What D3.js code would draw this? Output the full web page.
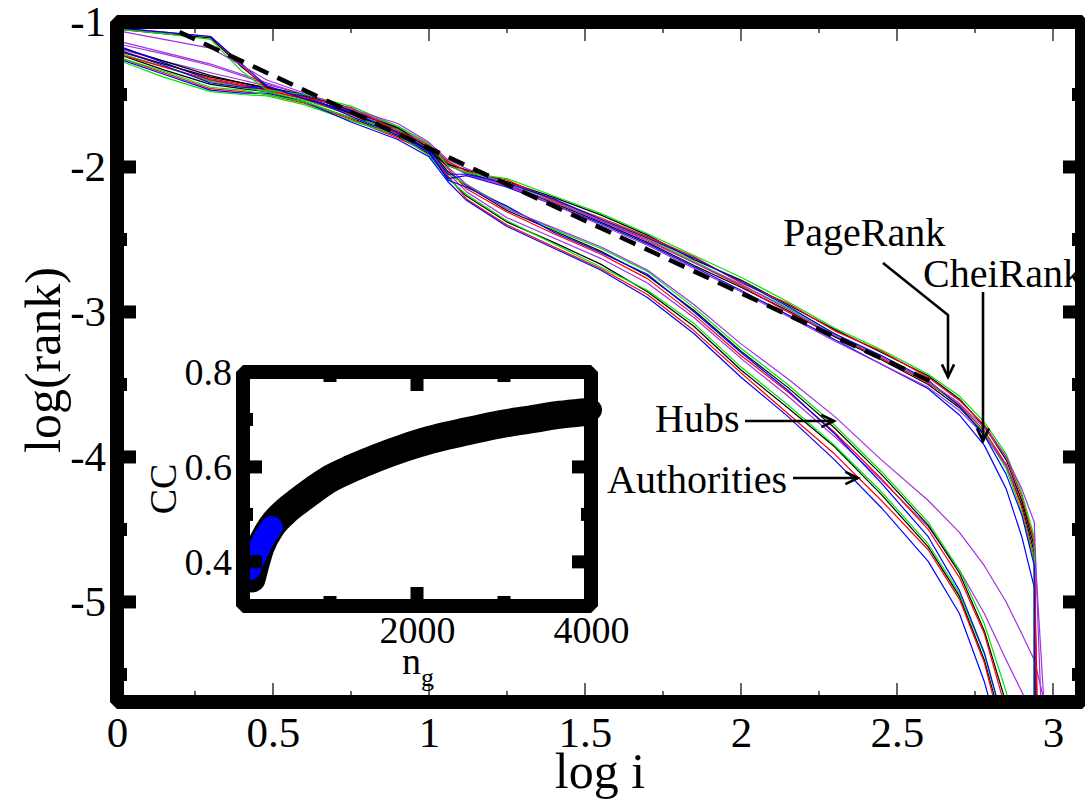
<!DOCTYPE html>
<html>
<head>
<meta charset="utf-8">
<script src="https://cdn.jsdelivr.net/npm/d3@7"></script>
<style>
    body { margin: 0; background: #fff; }
    svg { display: block; font-family: "Liberation Serif", "Times New Roman", serif; }
    svg text { font-family: "Liberation Serif", "Times New Roman", serif; }
</style>
</head>
<body>
<svg id="chart" width="1085" height="799"></svg>
<script>
// shared log i grid for every rank curve
const logI = [0, 0.15, 0.3, 0.4, 0.48, 0.6, 0.75, 0.9, 1.0, 1.06, 1.12, 1.25, 1.4, 1.55, 1.7, 1.85, 2.0, 2.15, 2.3, 2.45, 2.6, 2.7, 2.78, 2.85, 2.9, 2.94];

// one row per colour: black, red, green, blue, purple
const lineColors = ["#000000", "#ff0000", "#00e400", "#0000ff", "#a030e0"];

const pageRank = [
    [-1.05, -1.08, -1.11, -1.31, -1.45, -1.50, -1.61, -1.73, -1.87, -1.98, -2.02, -2.10, -2.21, -2.33, -2.47, -2.64, -2.78, -2.95, -3.12, -3.28, -3.44, -3.60, -3.79, -4.02, -4.30, -4.62],
    [-1.04, -1.07, -1.10, -1.30, -1.46, -1.52, -1.59, -1.75, -1.85, -1.96, -2.03, -2.09, -2.23, -2.35, -2.48, -2.62, -2.80, -2.94, -3.13, -3.27, -3.45, -3.61, -3.78, -4.00, -4.27, -4.58],
    [-1.05, -1.08, -1.12, -1.34, -1.47, -1.50, -1.58, -1.72, -1.84, -1.99, -2.04, -2.08, -2.20, -2.32, -2.46, -2.61, -2.76, -2.93, -3.11, -3.26, -3.43, -3.58, -3.76, -3.98, -4.25, -4.55],
    [-1.04, -1.07, -1.10, -1.29, -1.44, -1.53, -1.62, -1.76, -1.88, -2.05, -2.05, -2.11, -2.22, -2.36, -2.49, -2.63, -2.79, -2.96, -3.15, -3.30, -3.47, -3.65, -3.85, -4.12, -4.40, -4.75],
    [-1.06, -1.12, -1.18, -1.30, -1.40, -1.49, -1.60, -1.70, -1.83, -1.95, -2.01, -2.12, -2.24, -2.37, -2.51, -2.66, -2.81, -2.98, -3.16, -3.31, -3.48, -3.63, -3.80, -4.00, -4.22, -4.45]
];
const pageRankEnd = [2.945, 2.95, 2.94, 2.94, 2.97];

const cheiRank = [
    [-1.20, -1.29, -1.38, -1.42, -1.45, -1.52, -1.63, -1.76, -1.89, -1.99, -2.04, -2.12, -2.25, -2.38, -2.52, -2.68, -2.83, -2.99, -3.17, -3.33, -3.50, -3.66, -3.84, -4.06, -4.33, -4.66],
    [-1.22, -1.31, -1.40, -1.44, -1.47, -1.53, -1.64, -1.77, -1.86, -1.97, -2.05, -2.13, -2.24, -2.37, -2.50, -2.66, -2.82, -3.00, -3.16, -3.32, -3.49, -3.64, -3.82, -4.05, -4.35, -4.70],
    [-1.24, -1.34, -1.45, -1.47, -1.50, -1.55, -1.66, -1.74, -1.87, -1.96, -2.03, -2.11, -2.23, -2.36, -2.49, -2.65, -2.81, -2.97, -3.15, -3.31, -3.48, -3.65, -3.83, -4.08, -4.38, -4.72],
    [-1.19, -1.30, -1.42, -1.45, -1.46, -1.51, -1.65, -1.78, -1.90, -2.08, -2.06, -2.14, -2.26, -2.39, -2.53, -2.69, -2.85, -3.02, -3.19, -3.36, -3.53, -3.71, -3.92, -4.22, -4.55, -4.90],
    [-1.15, -1.22, -1.30, -1.37, -1.43, -1.50, -1.62, -1.73, -1.85, -1.98, -2.05, -2.13, -2.26, -2.40, -2.54, -2.70, -2.86, -3.03, -3.20, -3.36, -3.52, -3.68, -3.85, -4.06, -4.30, -4.58]
];
const cheiRankEnd = [2.95, 2.955, 2.945, 2.94, 2.985];

const hubs = [
    [-1.17, -1.27, -1.37, -1.42, -1.46, -1.51, -1.61, -1.74, -1.87, -2.03, -2.13, -2.30, -2.44, -2.58, -2.75, -2.99, -3.27, -3.52, -3.80, -4.12, -4.47, -4.80, -5.20, -5.70, -6.20, -6.50],
    [-1.19, -1.29, -1.39, -1.43, -1.47, -1.53, -1.62, -1.76, -1.86, -2.01, -2.15, -2.31, -2.46, -2.60, -2.77, -3.02, -3.30, -3.55, -3.83, -4.15, -4.50, -4.83, -5.22, -5.75, -6.30, -6.60],
    [-1.21, -1.31, -1.41, -1.45, -1.48, -1.54, -1.64, -1.73, -1.88, -2.05, -2.12, -2.28, -2.43, -2.56, -2.72, -2.97, -3.25, -3.50, -3.78, -4.10, -4.45, -4.78, -5.15, -5.62, -6.20, -6.50],
    [-1.16, -1.28, -1.40, -1.44, -1.45, -1.52, -1.63, -1.77, -1.89, -2.09, -2.14, -2.27, -2.45, -2.59, -2.74, -3.00, -3.28, -3.54, -3.84, -4.18, -4.55, -4.92, -5.35, -5.90, -6.30, -6.60],
    [-1.13, -1.21, -1.29, -1.36, -1.42, -1.50, -1.60, -1.72, -1.84, -2.00, -2.12, -2.29, -2.42, -2.55, -2.71, -2.95, -3.22, -3.46, -3.72, -4.02, -4.30, -4.52, -4.75, -5.00, -5.22, -5.40]
];
const hubsEnd = [2.96, 2.96, 2.96, 2.96, 3.03];

const authorities = [
    [-1.22, -1.33, -1.43, -1.46, -1.48, -1.55, -1.66, -1.79, -1.91, -2.07, -2.20, -2.38, -2.52, -2.67, -2.86, -3.10, -3.40, -3.66, -3.93, -4.26, -4.62, -4.96, -5.40, -5.95, -6.40, -6.70],
    [-1.24, -1.35, -1.46, -1.48, -1.50, -1.56, -1.67, -1.80, -1.90, -2.06, -2.22, -2.40, -2.55, -2.70, -2.88, -3.13, -3.42, -3.70, -3.98, -4.30, -4.64, -4.98, -5.42, -6.00, -6.40, -6.70],
    [-1.26, -1.38, -1.48, -1.50, -1.51, -1.57, -1.68, -1.78, -1.92, -2.08, -2.19, -2.37, -2.53, -2.69, -2.85, -3.08, -3.38, -3.64, -3.92, -4.24, -4.60, -4.94, -5.36, -5.90, -6.40, -6.70],
    [-1.25, -1.36, -1.47, -1.49, -1.49, -1.55, -1.69, -1.81, -1.93, -2.10, -2.23, -2.41, -2.56, -2.71, -2.90, -3.15, -3.45, -3.72, -4.02, -4.35, -4.72, -5.08, -5.55, -6.10, -6.50, -6.80],
    [-1.18, -1.27, -1.35, -1.40, -1.44, -1.52, -1.63, -1.76, -1.88, -2.04, -2.17, -2.35, -2.49, -2.63, -2.80, -3.04, -3.32, -3.58, -3.86, -4.16, -4.48, -4.78, -5.08, -5.40, -5.62, -5.78]
];
const authoritiesEnd = [2.96, 2.96, 2.96, 2.96, 2.96];

// dashed reference line
const fitX = [0.2, 2.62];
const fitY = [-1.07, -3.49];

const xTickLabels = [0, 0.5, 1, 1.5, 2, 2.5, 3];
const yTickLabels = [-1, -2, -3, -4, -5];

// inset: CC versus n_g
const ngBlack = [100, 200, 330, 480, 650, 820, 1000, 1250, 1550, 1850, 2150, 2500, 2900, 3300, 3650, 3900];
const ccBlack = [0.365, 0.43, 0.475, 0.505, 0.53, 0.553, 0.575, 0.597, 0.62, 0.64, 0.657, 0.672, 0.688, 0.70, 0.71, 0.715];
const ngEnd = [4000];
const ccEnd = [0.72];
const ngBlue = [80, 150, 240, 330];
const ccBlue = [0.385, 0.415, 0.448, 0.473];
const insetXLabels = [2000, 4000];
const insetYLabels = [0.4, 0.6, 0.8];

const rankChart = (function () {
    "use strict";

    const svg = d3.select("#chart");
    const serif = "'Liberation Serif', 'Times New Roman', serif";

    const x = d3.scaleLinear().domain([0, 3.093]).range([117, 1082]);
    const y = d3.scaleLinear().domain([-1, -5.69]).range([22, 702]);
    const ix = d3.scaleLinear().domain([0, 4000]).range([243, 591]);
    const iy = d3.scaleLinear().domain([0.8, 0.307]).range([372, 606]);

    const frame = 14;

    /**
     * Draw one bundle of coloured rank curves.
     * @param {Array} rows y values, one row per colour
     * @param {Array} ends log i where each curve falls off the bottom
     */
    function drawBundle(layer, rows, ends) {
        const line = d3.line()
            .x(d => x(d[0]))
            .y(d => y(d[1]));
        layer.append("g")
            .selectAll("path")
            .data(rows.map((row, k) => logI.map((v, i) => [v, row[i]]).concat([[ends[k], -6.2]])))
            .join("path")
            .attr("d", line)
            .attr("fill", "none")
            .attr("stroke", (d, k) => lineColors[k])
            .attr("stroke-width", 1.2)
            .attr("stroke-linejoin", "round");
    }

    function styleAxis(a, size) {
        a.select(".domain").remove();
        a.selectAll("text")
            .style("font-family", serif)
            .style("font-size", size + "px")
            .attr("fill", "#000");
    }

    function drawMain() {
        svg.append("defs").append("clipPath")
            .attr("id", "plot-clip")
            .append("rect")
            .attr("x", x(0)).attr("y", y(-1))
            .attr("width", x(3.093) - x(0)).attr("height", y(-5.69) - y(-1));

        const plot = svg.append("g").attr("clip-path", "url(#plot-clip)");

        drawBundle(plot, authorities, authoritiesEnd);
        drawBundle(plot, hubs, hubsEnd);
        drawBundle(plot, cheiRank, cheiRankEnd);
        drawBundle(plot, pageRank, pageRankEnd);

        plot.append("path")
            .datum(fitX.map((v, i) => [v, fitY[i]]))
            .attr("d", d3.line().x(d => x(d[0])).y(d => y(d[1])))
            .attr("fill", "none")
            .attr("stroke", "#000")
            .attr("stroke-width", 4.5)
            .attr("stroke-dasharray", "17,10");

        // thin ticks along the top and bottom
        const xt = d3.range(1, 13).map(k => k * 0.25);
        const inTop = y(-1) + frame / 2;
        const inBottom = y(-5.69) - frame / 2;
        svg.append("g")
            .selectAll("line")
            .data(xt.flatMap(v => [[v, inTop, 1], [v, inBottom, -1]]))
            .join("line")
            .attr("x1", d => x(d[0])).attr("x2", d => x(d[0]))
            .attr("y1", d => d[1])
            .attr("y2", d => d[1] + d[2] * (Math.abs(d[0] * 2 - Math.round(d[0] * 2)) < 1e-6 ? 12 : 4))
            .attr("stroke", "#000")
            .attr("stroke-width", 1.2);

        // block ticks on the left and right
        const yt = d3.range(3, 23).map(k => -k * 0.5 + 0.5).filter(v => v < -1 && v > -5.69);
        const inLeft = x(0) + frame / 2;
        const inRight = x(3.093) - frame / 2;
        svg.append("g")
            .selectAll("rect")
            .data(yt.flatMap(v => [[v, "l"], [v, "r"]]))
            .join("rect")
            .attr("width", d => Number.isInteger(d[0]) ? 12 : 3)
            .attr("height", 13)
            .attr("x", d => d[1] === "l" ? inLeft : inRight - (Number.isInteger(d[0]) ? 12 : 3))
            .attr("y", d => y(d[0]) - 6.5)
            .attr("fill", "#000");

        svg.append("rect")
            .attr("x", x(0)).attr("y", y(-1))
            .attr("width", x(3.093) - x(0)).attr("height", y(-5.69) - y(-1))
            .attr("fill", "none")
            .attr("stroke", "#000")
            .attr("stroke-width", frame)
            .attr("stroke-linejoin", "bevel");

        const xAxis = svg.append("g")
            .attr("transform", `translate(0, ${y(-5.69)})`)
            .call(d3.axisBottom(x).tickValues(xTickLabels).tickSize(0).tickPadding(14).tickFormat(d => String(d)));
        const yAxis = svg.append("g")
            .attr("transform", `translate(${x(0)}, 0)`)
            .call(d3.axisLeft(y).tickValues(yTickLabels).tickSize(0).tickPadding(11).tickFormat(d => String(d)));
        styleAxis(xAxis, 43);
        styleAxis(yAxis, 43);

        svg.append("text")
            .attr("x", 600).attr("y", 788)
            .attr("text-anchor", "middle")
            .style("font-size", "50px")
            .text("log i");
        svg.append("text")
            .attr("transform", "translate(60, 360) rotate(-90)")
            .attr("text-anchor", "middle")
            .style("font-size", "50px")
            .text("log(rank)");
    }

    /**
     * Open arrow: a polyline with a two-stroke head at its last point.
     */
    function arrow(points) {
        const n = points.length;
        const [tx, ty] = points[n - 1];
        const [px, py] = points[n - 2];
        const a = Math.atan2(ty - py, tx - px);
        const head = [0.45, -0.45].map(s => [tx - 14 * Math.cos(a + s), ty - 14 * Math.sin(a + s)]);
        svg.append("path")
            .attr("d", d3.line()(points))
            .attr("fill", "none")
            .attr("stroke", "#000")
            .attr("stroke-width", 2.6);
        svg.append("path")
            .attr("d", d3.line()([head[0], [tx, ty], head[1]]))
            .attr("fill", "none")
            .attr("stroke", "#000")
            .attr("stroke-width", 2.6);
    }

    function drawLabels() {
        const labels = [
            ["PageRank", 783, 246],
            ["CheiRank", 923, 287],
            ["Hubs", 655, 432],
            ["Authorities", 607, 493]
        ];
        svg.append("g")
            .selectAll("text")
            .data(labels)
            .join("text")
            .attr("x", d => d[1]).attr("y", d => d[2])
            .style("font-size", "40px")
            .text(d => d[0]);

        arrow([[883, 263], [948, 315], [948, 377]]);
        arrow([[983, 292], [983, 441]]);
        arrow([[745, 421], [834, 421]]);
        arrow([[793, 478], [858, 478]]);
    }

    function drawInset() {
        svg.append("rect")
            .attr("x", ix(0)).attr("y", iy(0.8))
            .attr("width", ix(4000) - ix(0)).attr("height", iy(0.307) - iy(0.8))
            .attr("fill", "#fff");

        const band = d3.line()
            .x(d => ix(d[0]))
            .y(d => iy(d[1]))
            .curve(d3.curveMonotoneX);

        svg.append("path")
            .datum(ngBlack.map((v, i) => [v, ccBlack[i]]))
            .attr("d", band)
            .attr("fill", "none")
            .attr("stroke", "#000")
            .attr("stroke-width", 28)
            .attr("stroke-linecap", "round")
            .attr("stroke-linejoin", "round");
        svg.append("g")
            .selectAll("circle")
            .data(ngEnd.map((v, i) => [v, ccEnd[i]]))
            .join("circle")
            .attr("cx", d => ix(d[0])).attr("cy", d => iy(d[1]))
            .attr("r", 11)
            .attr("fill", "#000");
        svg.append("path")
            .datum(ngBlue.map((v, i) => [v, ccBlue[i]]))
            .attr("d", band)
            .attr("fill", "none")
            .attr("stroke", "#0000ff")
            .attr("stroke-width", 22)
            .attr("stroke-linecap", "round")
            .attr("stroke-linejoin", "round");

        const inL = ix(0) + frame / 2, inR = ix(4000) - frame / 2;
        const inT = iy(0.8) + frame / 2, inB = iy(0.307) - frame / 2;
        const xBlocks = [1000, 2000, 3000];
        const yBlocks = [0.4, 0.5, 0.6, 0.7];
        const isMajorX = v => v % 2000 === 0;
        const isMajorY = v => Math.abs(v * 5 - Math.round(v * 5)) < 1e-6;
        svg.append("g")
            .selectAll("rect")
            .data(xBlocks.flatMap(v => [[v, inT, 1], [v, inB, -1]]))
            .join("rect")
            .attr("x", d => ix(d[0]) - 6.5)
            .attr("width", 13)
            .attr("height", d => isMajorX(d[0]) ? 12 : 3)
            .attr("y", d => d[2] > 0 ? d[1] : d[1] - (isMajorX(d[0]) ? 12 : 3))
            .attr("fill", "#000");
        svg.append("g")
            .selectAll("rect")
            .data(yBlocks.flatMap(v => [[v, inL, 1], [v, inR, -1]]))
            .join("rect")
            .attr("y", d => iy(d[0]) - 6.5)
            .attr("height", 13)
            .attr("width", d => isMajorY(d[0]) ? 12 : 3)
            .attr("x", d => d[2] > 0 ? d[1] : d[1] - (isMajorY(d[0]) ? 12 : 3))
            .attr("fill", "#000");

        svg.append("rect")
            .attr("x", ix(0)).attr("y", iy(0.8))
            .attr("width", ix(4000) - ix(0)).attr("height", iy(0.307) - iy(0.8))
            .attr("fill", "none")
            .attr("stroke", "#000")
            .attr("stroke-width", frame)
            .attr("stroke-linejoin", "bevel");

        const xAxis = svg.append("g")
            .attr("transform", `translate(0, ${iy(0.307)})`)
            .call(d3.axisBottom(ix).tickValues(insetXLabels).tickSize(0).tickPadding(10).tickFormat(d => String(d)));
        const yAxis = svg.append("g")
            .attr("transform", `translate(${ix(0)}, 0)`)
            .call(d3.axisLeft(iy).tickValues(insetYLabels).tickSize(0).tickPadding(11).tickFormat(d3.format(".1f")));
        styleAxis(xAxis, 38);
        styleAxis(yAxis, 38);

        svg.append("text")
            .attr("transform", "translate(176, 489) rotate(-90)")
            .attr("text-anchor", "middle")
            .style("font-size", "38px")
            .text("CC");
        const ng = svg.append("text")
            .attr("x", 402).attr("y", 674)
            .style("font-size", "38px")
            .text("n");
        ng.append("tspan")
            .attr("dy", 12)
            .style("font-size", "26px")
            .text("g");
    }

    return {
        draw: function () {
            drawMain();
            drawLabels();
            drawInset();
        }
    };
})();

rankChart.draw();
</script>
</body>
</html>
